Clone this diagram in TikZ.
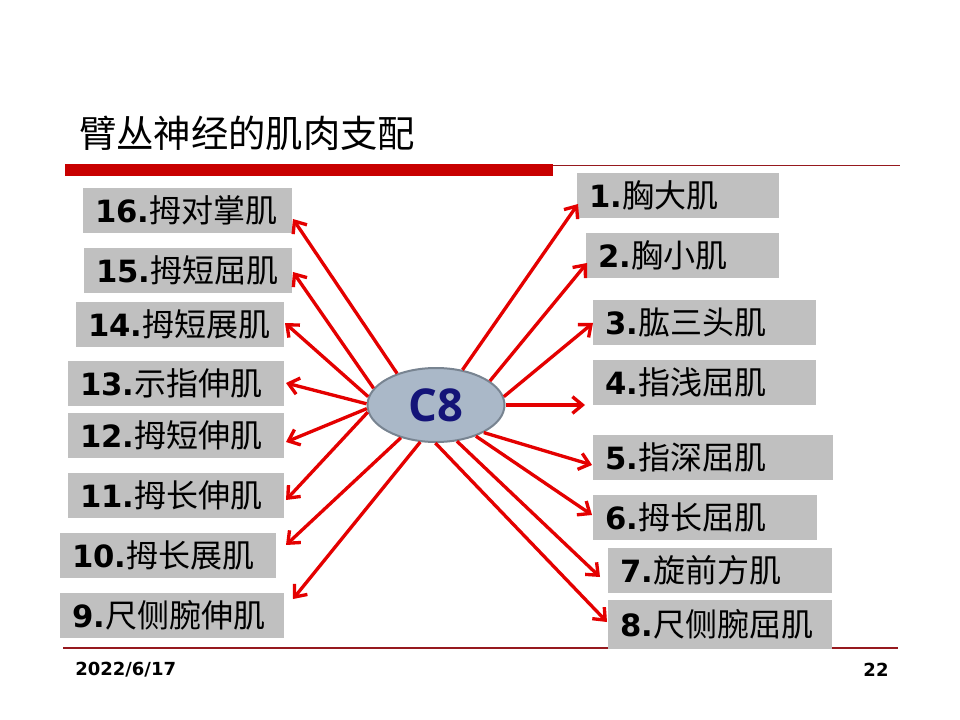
\documentclass[tikz,border=0pt]{standalone}
\usepackage{fontspec}
\usetikzlibrary{arrows.meta,shapes.geometric}
\newfontfamily\cjk{Noto Sans CJK SC}
\newfontfamily\numf{DejaVu Sans}
\newfontfamily\cfont{Open Sans}
\definecolor{boxgray}{RGB}{192,192,192}
\definecolor{arrred}{RGB}{228,0,0}
\definecolor{barred}{RGB}{200,0,0}
\definecolor{linered}{RGB}{150,25,30}
\definecolor{ellfill}{RGB}{170,184,200}
\definecolor{elldraw}{RGB}{120,132,145}
\definecolor{cnavy}{RGB}{20,20,120}
\newcommand\mlab[3]{\makebox[#1][l]{\hspace*{9pt}{\numf\bfseries\fontsize{23}{26}\selectfont #2}{\cjk\fontsize{24}{28}\selectfont #3}}}
\begin{document}
\begin{tikzpicture}[x=0.75pt,y=-0.75pt,
  mbox/.style={fill=boxgray,inner xsep=0pt,inner ysep=0pt,minimum height=33.75pt,anchor=north west},
  arr/.style={draw=arrred,line width=2.5pt,-{Straight Barb[length=7.5pt,width=12.5pt]}},
  thinline/.style={draw=linered,line width=0.9pt}]
\useasboundingbox[fill=white] (0,0) rectangle (960,720);
% title
\node[anchor=west,inner sep=0pt] (title) at (79,133) {\cjk\fontsize{28}{32}\selectfont 臂丛神经的肌肉支配};
% rules
\coordinate (r2a) at (553,165.5);
\coordinate (r2b) at (900,165.5);
\coordinate (r3a) at (63,648);
\coordinate (r3b) at (898,648);
\draw[thinline] (r2a) -- (r2b);
\fill[barred] (65,164) rectangle (553,176);
\draw[thinline] (r3a) -- (r3b);
% footer
\node[inner sep=0pt,anchor=west] (date) at (75,670) {\numf\bfseries\fontsize{13.5}{16}\selectfont 2022/6/17};
\node[inner sep=0pt] (page) at (876,670) {\numf\bfseries\fontsize{13.5}{16}\selectfont 22};
% center
\node[ellipse,fill=ellfill,draw=elldraw,line width=1.5pt,minimum width=102.75pt,minimum height=55.5pt,inner sep=0pt] (c8) at (436,405)
  {\cfont\bfseries\fontsize{34}{38}\selectfont\color{cnavy}C8};
% right boxes
\node[mbox] (b1) at (577,173) {\mlab{151.5pt}{1.}{胸大肌}};
\node[mbox] (b2) at (586,233) {\mlab{144.75pt}{2.}{胸小肌}};
\node[mbox] (b3) at (593,300) {\mlab{167.25pt}{3.}{肱三头肌}};
\node[mbox] (b4) at (593,360) {\mlab{167.25pt}{4.}{指浅屈肌}};
\node[mbox] (b5) at (593,435) {\mlab{180pt}{5.}{指深屈肌}};
\node[mbox] (b6) at (593,495) {\mlab{168pt}{6.}{拇长屈肌}};
\node[mbox] (b7) at (608,548) {\mlab{168pt}{7.}{旋前方肌}};
\node[mbox,minimum height=36.75pt] (b8) at (608,600) {\mlab{168pt}{8.}{尺侧腕屈肌}};
% left boxes
\node[mbox] (b16) at (83,188) {\mlab{156.75pt}{16.}{拇对掌肌}};
\node[mbox] (b15) at (84,248) {\mlab{156pt}{15.}{拇短屈肌}};
\node[mbox] (b14) at (76,302) {\mlab{156pt}{14.}{拇短展肌}};
\node[mbox] (b13) at (68,361) {\mlab{162pt}{13.}{示指伸肌}};
\node[mbox] (b12) at (68,413) {\mlab{162pt}{12.}{拇短伸肌}};
\node[mbox] (b11) at (68,473) {\mlab{162pt}{11.}{拇长伸肌}};
\node[mbox] (b10) at (60,533) {\mlab{162pt}{10.}{拇长展肌}};
\node[mbox] (b9) at (60,593) {\mlab{168pt}{9.}{尺侧腕伸肌}};
% arrow tips
\coordinate (t1) at (578,204);
\coordinate (t2) at (587,263);
\coordinate (t3) at (593,323);
\coordinate (t4) at (585,405);
\coordinate (t5) at (592,465);
\coordinate (t6) at (592,515);
\coordinate (t7) at (600,577);
\coordinate (t8) at (607,622);
\coordinate (t16) at (293,219);
\coordinate (t15) at (293,272);
\coordinate (t14) at (285,323);
\coordinate (t13) at (286,383);
\coordinate (t12) at (286,442);
\coordinate (t11) at (286,500);
\coordinate (t10) at (286,545);
\coordinate (t9) at (293,599);
% arrows
\draw[arr] (c8.53) -- (t1);
\draw[arr] (c8.24) -- (t2);
\draw[arr] (c8.7) -- (t3);
\draw[arr] (c8.0) -- (t4);
\draw[arr] (c8.-30) -- (t5);
\draw[arr] (c8.-38) -- (t6);
\draw[arr] (c8.-60) -- (t7);
\draw[arr] (c8.-91) -- (t8);
\draw[arr] (c8.141) -- (t16);
\draw[arr] (c8.165) -- (t15);
\draw[arr] (c8.173) -- (t14);
\draw[arr] (c8.179) -- (t13);
\draw[arr] (c8.183) -- (t12);
\draw[arr] (c8.186) -- (t11);
\draw[arr] (c8.223) -- (t10);
\draw[arr] (c8.247) -- (t9);
\end{tikzpicture}
\end{document}
